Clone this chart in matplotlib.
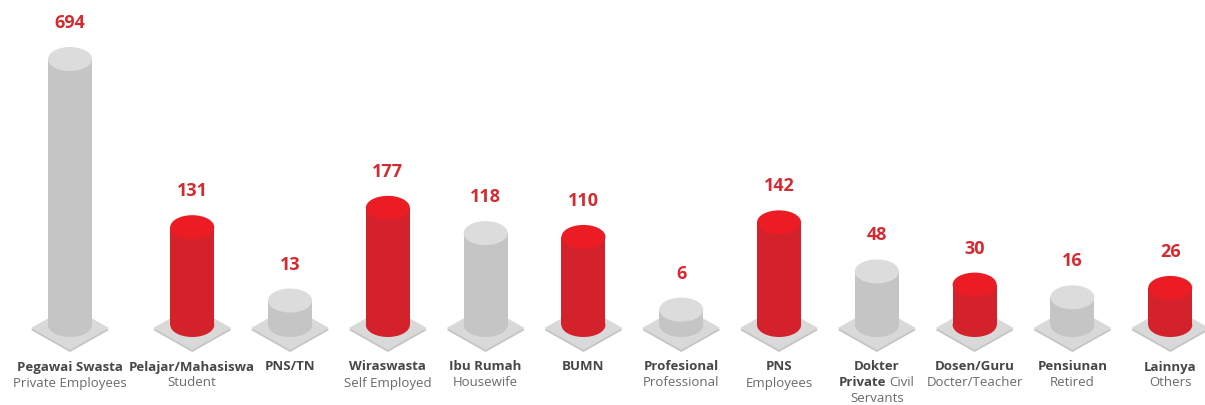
import numpy as np
import matplotlib
matplotlib.use("Agg")
import matplotlib.pyplot as plt
import matplotlib.transforms as mtransforms
from matplotlib.patches import Ellipse, Polygon

# Jumlah responden per pekerjaan
labels_id = ["Pegawai Swasta", "Pelajar/Mahasiswa", "PNS/TN", "Wiraswasta", "Ibu Rumah",
             "BUMN", "Profesional", "PNS", "Dokter", "Dosen/Guru", "Pensiunan", "Lainnya"]
labels_en = ["Private Employees", "Student", "", "Self Employed", "Housewife",
             "", "Professional", "Employees", "Civil\nServants", "Docter/Teacher", "Retired", "Others"]
labels_en_bold = ["", "", "", "", "", "", "", "", "Private", "", "", ""]
counts = [694, 131, 13, 177, 118, 110, 6, 142, 48, 30, 16, 26]

plt.rcParams["font.family"] = ["Open Sans", "DejaVu Sans"]

GRAY_BODY, GRAY_TOP = "#c6c5c6", "#dcdcdc"
RED_BODY, RED_TOP = "#d3222b", "#ec1c24"
BASE_TOP, BASE_EDGE = "#d9d9da", "#c4c4c6"
VALUE_COLOR = "#d42a30"
BOLD_COLOR, REG_COLOR = "#474747", "#6a6a6a"

fig = plt.figure(figsize=(12.05, 4.05), dpi=100)
ax = fig.add_axes([0, 80 / 405, 1, 266 / 405])

# power scale keeps the small groups readable next to the large one
def fwd(v):
    v = np.asarray(v, dtype=float)
    return np.sign(v) * np.abs(v) ** 0.6

def inv(v):
    v = np.asarray(v, dtype=float)
    return np.sign(v) * np.abs(v) ** (1 / 0.6)

ax.set_yscale("function", functions=(fwd, inv))
ax.set_ylim(0, max(counts))

n = len(counts)
xs = np.arange(n) + 0.25 * (np.arange(n) > 0)
ax.set_xlim(-70 / 97.8, (1205 - 70) / 97.8)
ax.axis("off")

cyl_w, ell_h = 44, 24           # pixels
bar_w = cyl_w / 97.8            # data units

def at(x, y):
    # pixel-sized shapes anchored at a data point
    return mtransforms.Affine2D() + mtransforms.ScaledTranslation(x, y, ax.transData)

for i, (x, v) in enumerate(zip(xs, counts)):
    body, top = (GRAY_BODY, GRAY_TOP) if i % 2 == 0 else (RED_BODY, RED_TOP)

    # isometric base plate
    diamond = np.array([[-39, 0], [0, -22], [39, 0], [0, 22]])
    ax.add_patch(Polygon(diamond + [0, -5], closed=True, transform=at(x, 0),
                         facecolor=BASE_EDGE, edgecolor="none", zorder=1, clip_on=False))
    ax.add_patch(Polygon(diamond + [0, -3], closed=True, transform=at(x, 0),
                         facecolor=BASE_TOP, edgecolor="none", zorder=1, clip_on=False))

    # cylinder: bottom cap, body, top cap
    ax.add_patch(Ellipse((0, 0), cyl_w, ell_h, transform=at(x, 0),
                         facecolor=body, edgecolor="none", zorder=2, clip_on=False))
    ax.bar(x, v, width=bar_w, bottom=0, color=body, linewidth=0, zorder=3, clip_on=False)
    ax.add_patch(Ellipse((0, 0), cyl_w, ell_h, transform=at(x, v),
                         facecolor=top, edgecolor="none", zorder=4, clip_on=False))

    ax.annotate(str(v), xy=(x, v), xytext=(0, 36), textcoords="offset pixels",
                ha="center", va="center", fontsize=13, fontweight="bold",
                color=VALUE_COLOR, annotation_clip=False)

renderer = fig.canvas.get_renderer()

for i, x in enumerate(xs):
    ax.annotate(labels_id[i], xy=(x, 0), xytext=(0, -42), textcoords="offset pixels",
                ha="center", va="center", fontsize=9.5, fontweight="bold",
                color=BOLD_COLOR, annotation_clip=False)
    lines = labels_en[i].split("\n") if labels_en[i] else []
    for j, line in enumerate(lines):
        dy = -58 - 16 * j
        if j == 0 and labels_en_bold[i]:
            tb = ax.annotate(labels_en_bold[i], xy=(x, 0), xytext=(0, dy),
                             textcoords="offset pixels", ha="left", va="center",
                             fontsize=9.5, fontweight="bold", color=BOLD_COLOR,
                             annotation_clip=False)
            tr = ax.annotate(line, xy=(x, 0), xytext=(0, dy),
                             textcoords="offset pixels", ha="left", va="center",
                             fontsize=9.5, color=REG_COLOR, annotation_clip=False)
            wb = tb.get_window_extent(renderer).width
            wr = tr.get_window_extent(renderer).width
            gap = 3
            total = wb + gap + wr
            tb.set_position((-total / 2, dy))
            tr.set_position((-total / 2 + wb + gap, dy))
        else:
            ax.annotate(line, xy=(x, 0), xytext=(0, dy), textcoords="offset pixels",
                        ha="center", va="center", fontsize=9.5, color=REG_COLOR,
                        annotation_clip=False)

fig.savefig("out.png", dpi=100, facecolor="white")
